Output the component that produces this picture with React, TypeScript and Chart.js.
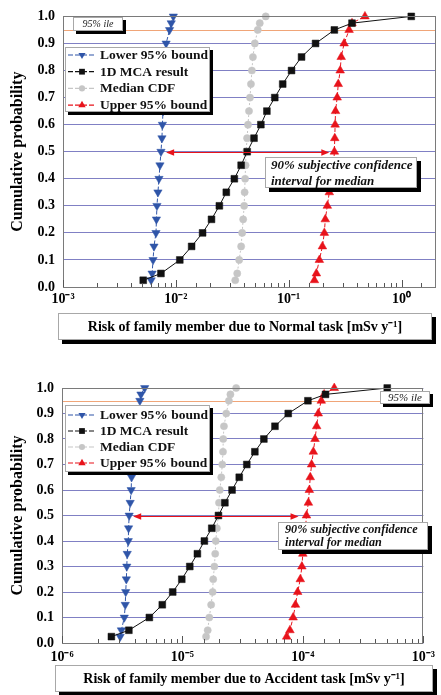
import React, { useEffect, useRef } from 'react';
import { Chart, registerables } from 'chart.js';

Chart.register(...registerables);

// ---------------- DATA ----------------
const cumulativeProbability = [0.025, 0.05, 0.1, 0.15, 0.2, 0.25, 0.3, 0.35, 0.4, 0.45, 0.5, 0.55, 0.6, 0.65, 0.7, 0.75, 0.8, 0.85, 0.9, 0.95, 0.975, 1.0];

const seriesLabels = ['Lower 95% bound', '1D MCA result', 'Median CDF', 'Upper 95% bound'];

// Normal task [mSv/y]
const normalLower = [0.00604, 0.00616, 0.00628, 0.0064, 0.00667, 0.00673, 0.0068, 0.00694, 0.00709, 0.00723, 0.00738, 0.00753, 0.0076, 0.0077, 0.0078, 0.0079, 0.008, 0.0081, 0.0082, 0.0088, 0.0091, 0.0095];
const normalMca = [0.00514, 0.00738, 0.01084, 0.0138, 0.01726, 0.0207, 0.0243, 0.028, 0.033, 0.0379, 0.0429, 0.0493, 0.0567, 0.0641, 0.0753, 0.0885, 0.106, 0.13, 0.173, 0.254, 0.364, 1.22];
const normalMedian = [0.0336, 0.035, 0.0364, 0.0379, 0.0387, 0.0395, 0.0403, 0.0407, 0.0411, 0.0415, 0.0419, 0.0428, 0.0436, 0.0445, 0.0454, 0.0463, 0.0472, 0.0482, 0.0501, 0.0532, 0.0554, 0.0626];
const normalUpper = [0.169, 0.176, 0.187, 0.199, 0.207, 0.211, 0.22, 0.229, 0.243, 0.25, 0.254, 0.256, 0.258, 0.26, 0.269, 0.275, 0.286, 0.292, 0.31, 0.343, 0.364, 0.474];
const normalArrow = [0.0082, 0.229];
const normalTickValues = [1e-3, 1e-2, 1e-1, 1];
const normalTickLabels = ['10⁻³', '10⁻²', '10⁻¹', '10⁰'];

// Accident task [mSv/y]
const accidentLower = [3.04e-6, 3.11e-6, 3.29e-6, 3.35e-6, 3.38e-6, 3.42e-6, 3.45e-6, 3.48e-6, 3.55e-6, 3.57e-6, 3.61e-6, 3.68e-6, 3.75e-6, 3.78e-6, 3.86e-6, 3.94e-6, 4.01e-6, 4.12e-6, 4.27e-6, 4.43e-6, 4.52e-6, 4.86e-6];
const accidentMca = [2.57e-6, 3.59e-6, 5.31e-6, 6.8e-6, 8.3e-6, 9.87e-6, 1.15e-5, 1.33e-5, 1.52e-5, 1.75e-5, 1.99e-5, 2.25e-5, 2.58e-5, 2.96e-5, 3.42e-5, 3.99e-5, 4.74e-5, 5.86e-5, 7.55e-5, 1.1e-4, 1.54e-4, 5.01e-4];
const accidentMedian = [1.57e-5, 1.62e-5, 1.67e-5, 1.73e-5, 1.78e-5, 1.8e-5, 1.84e-5, 1.87e-5, 1.89e-5, 1.93e-5, 1.99e-5, 2.01e-5, 2.04e-5, 2.1e-5, 2.14e-5, 2.17e-5, 2.18e-5, 2.21e-5, 2.31e-5, 2.43e-5, 2.5e-5, 2.79e-5];
const accidentUpper = [7.33e-5, 7.8e-5, 8.29e-5, 8.67e-5, 9.04e-5, 9.51e-5, 9.8e-5, 9.98e-5, 1.03e-4, 1.05e-4, 1.07e-4, 1.11e-4, 1.13e-4, 1.15e-4, 1.18e-4, 1.22e-4, 1.26e-4, 1.3e-4, 1.34e-4, 1.42e-4, 1.5e-4, 1.82e-4];
const accidentArrow = [3.9e-6, 9.2e-5];
const accidentTickValues = [1e-6, 1e-5, 1e-4, 1e-3];
const accidentTickLabels = ['10⁻⁶', '10⁻⁵', '10⁻⁴', '10⁻³'];

const yTickValues = [0, 0.1, 0.2, 0.3, 0.4, 0.5, 0.6, 0.7, 0.8, 0.9, 1.0];
const percentileLevel = 0.95;
const medianLevel = 0.5;

// ---------------- STYLE ----------------
const SERIF = '"Liberation Serif", "Times New Roman", serif';
const BLUE = '#2f55a8';
const BLACK = '#111111';
const GRAY = '#c6c6c6';
const RED = '#e8131b';
const GRID = 'rgb(128,128,196)';

const seriesStyles = [
  { color: BLUE, dash: [4, 2], point: 'triangle', rotation: 180, radius: 4.8 },
  { color: BLACK, dash: [], point: 'rect', rotation: 0, radius: 4.8 },
  { color: GRAY, dash: [2, 2], point: 'circle', rotation: 0, radius: 3.6 },
  { color: RED, dash: [4, 2], point: 'triangle', rotation: 0, radius: 5 },
];

type Box = { x: number; y: number; w: number; h: number };

function shadowBox(ctx: CanvasRenderingContext2D, b: Box, off: number) {
  ctx.fillStyle = '#000';
  ctx.fillRect(b.x + off, b.y + off, b.w, b.h);
  ctx.fillStyle = '#fff';
  ctx.fillRect(b.x, b.y, b.w, b.h);
  ctx.strokeStyle = '#a8a8a8';
  ctx.lineWidth = 1;
  ctx.setLineDash([]);
  ctx.strokeRect(b.x + 0.5, b.y + 0.5, b.w - 1, b.h - 1);
}

function drawMarker(ctx: CanvasRenderingContext2D, kind: string, rotation: number, x: number, y: number, r: number, color: string) {
  ctx.fillStyle = color;
  ctx.strokeStyle = color;
  ctx.setLineDash([]);
  ctx.beginPath();
  if (kind === 'triangle') {
    const dir = rotation === 180 ? -1 : 1;
    ctx.moveTo(x, y - dir * r);
    ctx.lineTo(x + r * 0.866, y + dir * r * 0.5);
    ctx.lineTo(x - r * 0.866, y + dir * r * 0.5);
    ctx.closePath();
  } else if (kind === 'rect') {
    const s = r * Math.SQRT1_2;
    ctx.rect(x - s, y - s, 2 * s, 2 * s);
  } else {
    ctx.arc(x, y, r, 0, Math.PI * 2);
  }
  ctx.fill();
}

const decorPlugin = {
  id: 'decor',
  beforeDatasetsDraw(chart: any) {
    const { ctx, chartArea } = chart;
    const y = chart.scales.y;
    const yp = Math.round(y.getPixelForValue(percentileLevel)) + 0.5;
    ctx.save();
    ctx.strokeStyle = 'rgb(240,165,120)';
    ctx.lineWidth = 1;
    ctx.beginPath();
    ctx.moveTo(chartArea.left, yp);
    ctx.lineTo(chartArea.right, yp);
    ctx.stroke();
    ctx.restore();
  },
  afterDraw(chart: any, _args: any, opts: any) {
    const { ctx, chartArea } = chart;
    const xs = chart.scales.x;
    const ys = chart.scales.y;
    ctx.save();

    // plot frame
    ctx.strokeStyle = '#7a7a7a';
    ctx.lineWidth = 1;
    ctx.setLineDash([]);
    ctx.strokeRect(Math.round(chartArea.left) + 0.5, Math.round(chartArea.top) + 0.5,
      Math.round(chartArea.right - chartArea.left) - 1, Math.round(chartArea.bottom - chartArea.top));

    // inside ticks on bottom axis
    ctx.strokeStyle = '#555';
    for (const t of xs.ticks) {
      const v = t.value;
      const lg = Math.log10(v);
      const major = Math.abs(lg - Math.round(lg)) < 1e-6;
      const px = Math.round(xs.getPixelForValue(v)) + 0.5;
      if (px < chartArea.left - 0.5 || px > chartArea.right + 0.5) continue;
      ctx.beginPath();
      ctx.moveTo(px, chartArea.bottom);
      ctx.lineTo(px, chartArea.bottom - (major ? 7 : 4));
      ctx.stroke();
    }

    // red double arrow at the median level
    const ay = Math.round(ys.getPixelForValue(medianLevel)) + 0.5;
    const ax1 = xs.getPixelForValue(opts.arrow[0]);
    const ax2 = xs.getPixelForValue(opts.arrow[1]);
    ctx.strokeStyle = RED;
    ctx.fillStyle = RED;
    ctx.lineWidth = 1.2;
    ctx.beginPath();
    ctx.moveTo(ax1 + 4, ay);
    ctx.lineTo(ax2 - 4, ay);
    ctx.stroke();
    ctx.beginPath();
    ctx.moveTo(ax1, ay); ctx.lineTo(ax1 + 8, ay - 3.2); ctx.lineTo(ax1 + 8, ay + 3.2); ctx.closePath(); ctx.fill();
    ctx.beginPath();
    ctx.moveTo(ax2, ay); ctx.lineTo(ax2 - 8, ay - 3.2); ctx.lineTo(ax2 - 8, ay + 3.2); ctx.closePath(); ctx.fill();

    // legend
    const L = opts.legend;
    shadowBox(ctx, L, 3);
    ctx.textBaseline = 'middle';
    ctx.textAlign = 'left';
    chart.data.datasets.forEach((ds: any, i: number) => {
      const st = seriesStyles[i];
      const ry = L.y + L.first + i * L.gap;
      ctx.strokeStyle = st.color;
      ctx.lineWidth = 1.2;
      ctx.setLineDash([5, 2]);
      ctx.beginPath();
      ctx.moveTo(L.x + 3, ry);
      ctx.lineTo(L.x + 31, ry);
      ctx.stroke();
      drawMarker(ctx, st.point, st.rotation, L.x + 17, ry, st.radius * 0.85, st.color);
      ctx.fillStyle = '#111';
      ctx.font = `bold 13.5px ${SERIF}`;
      ctx.fillText(ds.label, L.x + 35, ry + 0.5);
    });

    // percentile box
    const P = opts.pct;
    shadowBox(ctx, P, 3);
    ctx.fillStyle = '#222';
    ctx.font = `italic ${P.font}px ${SERIF}`;
    ctx.textAlign = 'center';
    ctx.fillText('95% ile', P.x + P.w / 2, P.y + P.h / 2 + 0.5);

    // note box
    const N = opts.note;
    shadowBox(ctx, N, 4);
    ctx.fillStyle = '#111';
    ctx.font = `bold italic ${N.font}px ${SERIF}`;
    ctx.textAlign = 'left';
    ctx.fillText('90% subjective confidence', N.x + N.pad, N.y + N.l1);
    ctx.fillText('interval for median', N.x + N.pad, N.y + N.l2);

    // x-axis title box
    const T = opts.title;
    shadowBox(ctx, T, 4);
    ctx.fillStyle = '#000';
    ctx.font = `bold 14px ${SERIF}`;
    ctx.textAlign = 'center';
    ctx.fillText(opts.xTitle, T.x + T.w / 2, T.y + T.h / 2 + 1);

    // y-axis title
    ctx.save();
    ctx.translate(18, (chartArea.top + chartArea.bottom) / 2);
    ctx.rotate(-Math.PI / 2);
    ctx.font = `bold 16px ${SERIF}`;
    ctx.textAlign = 'center';
    ctx.fillStyle = '#000';
    ctx.fillText('Cumulative probability', 0, 0);
    ctx.restore();

    ctx.restore();
  },
};

type Spec = {
  height: number;
  top: number;
  padTop: number;
  padRight: number;
  yWidth: number;
  xHeight: number;
  xMin: number;
  xMax: number;
  tickValues: number[];
  tickLabels: string[];
  tickPad: number;
  series: number[][];
  decor: any;
};

function CdfChart({ spec }: { spec: Spec }) {
  const ref = useRef<HTMLCanvasElement>(null);
  useEffect(() => {
    const datasets = spec.series.map((vals, i) => {
      const st = seriesStyles[i];
      return {
        label: seriesLabels[i],
        data: vals.map((v, k) => ({ x: v, y: cumulativeProbability[k] })),
        showLine: true,
        borderColor: st.color,
        backgroundColor: st.color,
        borderWidth: 1,
        borderDash: st.dash,
        pointStyle: st.point,
        pointRotation: st.rotation,
        pointRadius: st.radius,
        pointBorderWidth: 0.5,
        pointBorderColor: st.color,
        pointBackgroundColor: st.color,
        clip: false,
        tension: 0,
      };
    });
    const order = [1, 0, 2, 1];
    datasets.forEach((d: any, i) => { d.order = order[i]; });

    const findLabel = (v: number) => {
      for (let i = 0; i < spec.tickValues.length; i++) {
        if (Math.abs(Math.log10(v) - Math.log10(spec.tickValues[i])) < 1e-6) return spec.tickLabels[i];
      }
      return '';
    };

    const chart = new Chart(ref.current as HTMLCanvasElement, {
      type: 'scatter',
      data: { datasets },
      plugins: [decorPlugin as any],
      options: {
        responsive: false,
        animation: false,
        events: [],
        layout: { padding: { top: spec.padTop, right: spec.padRight, left: 0, bottom: 0 } },
        plugins: {
          legend: { display: false },
          tooltip: { enabled: false },
          decor: spec.decor,
        } as any,
        scales: {
          x: {
            type: 'logarithmic',
            min: spec.xMin,
            max: spec.xMax,
            afterFit: (s: any) => { s.height = spec.xHeight; },
            grid: { display: false, drawTicks: false },
            border: { display: false },
            ticks: {
              autoSkip: false,
              maxRotation: 0,
              minRotation: 0,
              padding: spec.tickPad,
              color: '#000',
              font: { family: SERIF, weight: 'bold', size: 14 },
              callback: (v: any) => findLabel(Number(v)),
            },
          },
          y: {
            type: 'linear',
            min: 0,
            max: 1,
            afterFit: (s: any) => { s.width = spec.yWidth; },
            afterBuildTicks: (s: any) => { s.ticks = yTickValues.map((v) => ({ value: v })); },
            grid: { color: GRID, lineWidth: 1, drawTicks: false },
            border: { display: false },
            ticks: {
              padding: 8,
              color: '#000',
              font: { family: SERIF, weight: 'bold', size: 14 },
              callback: (v: any) => Number(v).toFixed(1),
            },
          },
        },
      } as any,
    });
    return () => chart.destroy();
  }, [spec]);
  return (
    <canvas
      ref={ref}
      width={441}
      height={spec.height}
      style={{ position: 'absolute', left: 0, top: spec.top, width: 441, height: spec.height }}
    />
  );
}

const normalSpec: Spec = {
  height: 350,
  top: 0,
  padTop: 16,
  padRight: 2,
  yWidth: 63,
  xHeight: 63,
  xMin: 1e-3,
  xMax: 2,
  tickValues: normalTickValues,
  tickLabels: normalTickLabels,
  tickPad: 4,
  series: [normalLower, normalMca, normalMedian, normalUpper],
  decor: {
    arrow: normalArrow,
    legend: { x: 65, y: 47, w: 145, h: 65, first: 8, gap: 16.7 },
    pct: { x: 73, y: 17, w: 50, h: 14, font: 10 },
    note: { x: 265, y: 157, w: 152, h: 31, pad: 6, l1: 8.5, l2: 24.5, font: 13 },
    title: { x: 58, y: 313, w: 374, h: 27 },
    xTitle: 'Risk of family member due to Normal task [mSv y⁻¹]',
  },
};

const accidentSpec: Spec = {
  height: 345,
  top: 350,
  padTop: 38,
  padRight: 8,
  yWidth: 62,
  xHeight: 52,
  xMin: 1e-6,
  xMax: 1e-3,
  tickValues: accidentTickValues,
  tickLabels: accidentTickLabels,
  tickPad: 6,
  series: [accidentLower, accidentMca, accidentMedian, accidentUpper],
  decor: {
    arrow: accidentArrow,
    legend: { x: 65, y: 55, w: 145, h: 67, first: 10, gap: 16 },
    pct: { x: 380, y: 41, w: 50, h: 13, font: 11 },
    note: { x: 278, y: 172, w: 150, h: 28, pad: 7, l1: 8, l2: 21, font: 12.2 },
    title: { x: 55, y: 315, w: 378, h: 27 },
    xTitle: 'Risk of family member due to Accident task [mSv y⁻¹]',
  },
};

export default function App() {
  return (
    <div style={{ position: 'absolute', left: 0, top: 0, width: 441, height: 695, background: '#fff', overflow: 'hidden' }}>
      <CdfChart spec={normalSpec} />
      <CdfChart spec={accidentSpec} />
    </div>
  );
}
